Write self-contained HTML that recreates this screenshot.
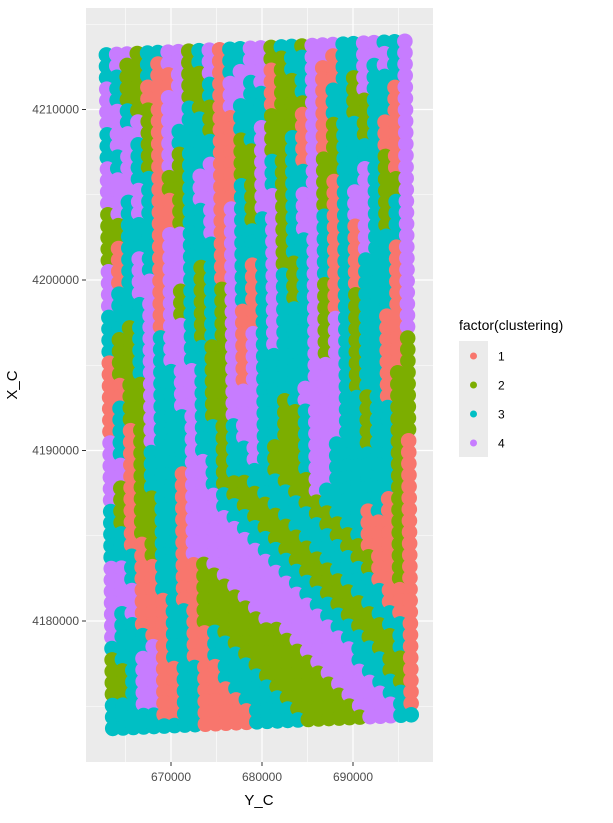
<!DOCTYPE html>
<html><head><meta charset="utf-8"><style>
body{margin:0;background:#fff;font-family:"Liberation Sans",sans-serif}
svg text{font-family:"Liberation Sans",sans-serif}
</style></head><body>
<svg id="chart" width="613" height="818" viewBox="0 0 613 818" xmlns="http://www.w3.org/2000/svg">
<rect x="0" y="0" width="613" height="818" fill="#fff"/>
<rect x="86" y="8" width="347" height="754" fill="#EBEBEB"/>
<g id="grid"></g>
<g id="points"></g>
<g id="axes"></g>
<text x="259" y="805" font-size="15" text-anchor="middle" fill="#000">Y_C</text>
<text x="17" y="385" font-size="15" text-anchor="middle" fill="#000" transform="rotate(-90 17 385)">X_C</text>
<g>
<text x="459" y="330" font-size="14" fill="#000">factor(clustering)</text>
<rect x="459" y="341" width="29" height="116" fill="#EBEBEB"/>
</g>
<g id="legend-keys"></g>
</svg>
<script>
const rows=[
"344233442341334423324443344334","342231442341334422334413344434","332231142241344412334113343434","432211142231443412234113243334",
"432211442231443312234133243314","443221443221433312224133223314","443421443321133322214133223314","344421433321133422214123323114",
"344321433331123422314123323114","334321423331122422314123333114","434321423341122432314223333214","444331223441122432334223343214",
"444431223441132432334213343224","443431123441132442344213443224","243431123341432442344213443234","223331123341432342344313443234",
"223331443341433342344313143234","213331443331433342334313143334","213431443331433342334313143314","413431443231431342234313133314",
"413441443231431343234313133314","433441423232431343234213133314","433341423232431343234213233314","333341423232411343334213233314",
"332341443232411343334243233114","322343443232414343334243233114","322343443322414343334243233112","122343443322414333334243233112",
"122343344322414333334443233112","112243344322414333334443233122","112243344322444333344443233122","132243344322444332344443323122",
"132243334322444332234443323322","131243334332344332234443323322","431243334332344332234443323322","431233334332334322234433323321",
"441233334432334322234433333321","441233314432333322234433333321","421233314432223332224433333321","421223314443222333224333333321",
"321223314443322233322333333121","321223314444332223332233313121","331223314444433222333223311121","331123314444443322233322311121",
"333123314444444332223332211121","443113311244444433222333221121","443113311224444443322233321121","444113311222444444332223331121",
"444111311222244444433222333111","434111331222224444443322233111","433111331222222444444332223311","433311331132222224444433222331",
"333341331133222222444443322231","233441331133322222244444332231","223441133113332222224444333221","223441133113333222222444433221",
"223441133111333322222244443321","333441133111133332222224444331","333331133111113333222222444431","333333333111113333322222244433"];
const yC_range=[662900,695700];   // Y_C at left/right of top row
const yC_shift=[0,700];           // Y_C offset top->bottom
const xC_top=[4213200,4214000];   // X_C at top row left/right
const xC_bottom=[4173700,4174500];// X_C at bottom row left/right
const xTicks=[670000,680000,690000];
const yTicks=[4180000,4190000,4200000,4210000];
const clusters=["1","2","3","4"];
const colors={"1":"#F8766D","2":"#7CAE00","3":"#00BFC4","4":"#C77CFF"};
const NS="http://www.w3.org/2000/svg";
const sx=v=>171+(v-670000)*0.0091;
const sy=v=>280-(v-4200000)*0.01705;
function mk(tag,attrs,parent){const e=document.createElementNS(NS,tag);for(const k in attrs)e.setAttribute(k,attrs[k]);parent.appendChild(e);return e;}
const grid=document.getElementById('grid');
for(let v=665000;v<=695000;v+=10000){const l=mk('line',{x1:sx(v),x2:sx(v),y1:8,y2:762,stroke:'#fff','stroke-width':0.6},grid);}
for(let v=4175000;v<=4215000;v+=10000){const l=mk('line',{x1:86,x2:433,y1:sy(v),y2:sy(v),stroke:'#fff','stroke-width':0.6},grid);}
const axes=document.getElementById('axes');
xTicks.forEach(v=>{const l=mk('line',{x1:sx(v),x2:sx(v),y1:8,y2:762,stroke:'#fff','stroke-width':1.2},grid);
const t=mk('line',{x1:sx(v),x2:sx(v),y1:762,y2:766,stroke:'#333'},axes);
const tx=mk('text',{x:sx(v),y:781,'font-size':12,'text-anchor':'middle',fill:'#4D4D4D'},axes);tx.textContent=v;});
yTicks.forEach(v=>{const l=mk('line',{x1:86,x2:433,y1:sy(v),y2:sy(v),stroke:'#fff','stroke-width':1.2},grid);
const t=mk('line',{x1:82,x2:86,y1:sy(v),y2:sy(v),stroke:'#333'},axes);
const tx=mk('text',{x:79,y:sy(v)+4,'font-size':12,'text-anchor':'end',fill:'#4D4D4D'},axes);tx.textContent=v;});
const pts=document.getElementById('points');
const R=rows.length,C=rows[0].length;
for(let r=0;r<R;r++){for(let c=0;c<C;c++){
 const fc=c/(C-1),fr=r/(R-1);
 const yv=yC_range[0]+(yC_range[1]-yC_range[0])*fc+yC_shift[0]+(yC_shift[1]-yC_shift[0])*fr;
 const xt=xC_top[0]+(xC_top[1]-xC_top[0])*fc, xb=xC_bottom[0]+(xC_bottom[1]-xC_bottom[0])*fc;
 const xv=xt+(xb-xt)*fr;
 const p=mk('circle',{cx:sx(yv),cy:sy(xv),r:7.8,fill:colors[rows[r][c]]},pts);
 
 
}}
const lk=document.getElementById('legend-keys');
clusters.forEach((k,i)=>{const y=356+i*29;
 const c=mk('circle',{cx:473.5,cy:y,r:3.5,fill:colors[k]},lk);
 const t=mk('text',{x:498,y:y+4.5,'font-size':12,fill:'#000'},lk);t.textContent=k;});
</script>
</body></html>
